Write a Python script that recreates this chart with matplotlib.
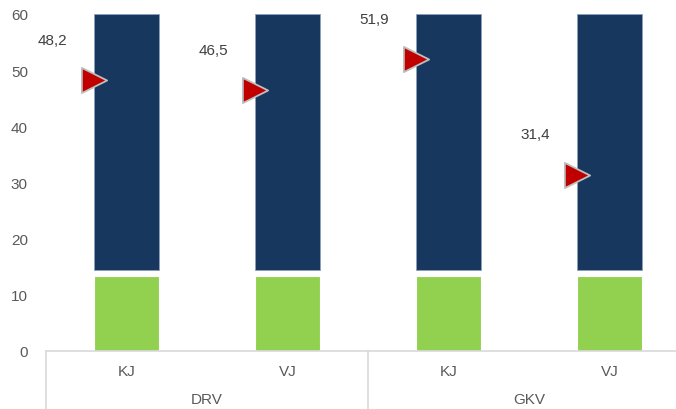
import matplotlib
matplotlib.use("Agg")
import matplotlib.pyplot as plt
import numpy as np

plt.rcParams['font.family'] = ['Liberation Sans', 'DejaVu Sans']

groups = ["DRV", "GKV"]
categories = ["KJ", "VJ", "KJ", "VJ"]
green_vals = [13.4, 13.4, 13.4, 13.4]
gap_vals = [1.1, 1.1, 1.1, 1.1]
navy_vals = [45.5, 45.5, 45.5, 45.5]
marker_vals = [48.2, 46.5, 51.9, 31.4]
marker_labels = ["48,2", "46,5", "51,9", "31,4"]

W, H = 676, 410
fig = plt.figure(figsize=(W/100, H/100), dpi=100)
ax = fig.add_axes([46/W, (H-352)/H, 644/W, 337/H])

x = np.arange(len(categories))
bw = 0.40
green = "#92D050"
navy = "#17375E"
ax.bar(x, green_vals, bw, color=green, edgecolor="white", linewidth=0.8, zorder=2)
ax.bar(x, navy_vals, bw, bottom=np.array(green_vals)+np.array(gap_vals), color=navy,
       edgecolor="#8EA0B8", linewidth=0.6, zorder=2)

mx = x - bw/2
ax.scatter(mx, marker_vals, marker='>', s=330, color="#C00000", edgecolor="#BFBFBF",
           linewidth=1.3, zorder=4, clip_on=False)
for xi, v, lab in zip(mx, marker_vals, marker_labels):
    ax.annotate(lab, (xi, v), xytext=(-30, 29), textcoords="offset points",
                ha="center", va="center", fontsize=11, color="#404040")

ax.set_xlim(-0.5, len(categories)-0.5)
ax.set_ylim(0, 60)
ax.set_yticks([0, 10, 20, 30, 40, 50, 60])
ax.tick_params(axis='y', length=0, pad=13, labelsize=11, labelcolor="#595959")
ax.set_xticks([])
for s in ["left", "right", "top"]:
    ax.spines[s].set_visible(False)
ax.spines["bottom"].set_color("#D9D9D9")
ax.spines["bottom"].set_linewidth(1.2)

trans = ax.get_xaxis_transform()
for xi, c in zip(x, categories):
    ax.text(xi, -20/337, c, transform=trans, ha="center", va="center",
            fontsize=11, color="#595959")
for gi, g in enumerate(groups):
    ax.text(gi*2 + 0.5, -48/337, g, transform=trans, ha="center", va="center",
            fontsize=11, color="#595959")
for sx in [-0.5, 1.5, 3.5]:
    ax.plot([sx, sx], [0, -58/337], transform=trans, color="#D9D9D9", lw=1.2,
            clip_on=False)

fig.savefig("out.png", dpi=100)
